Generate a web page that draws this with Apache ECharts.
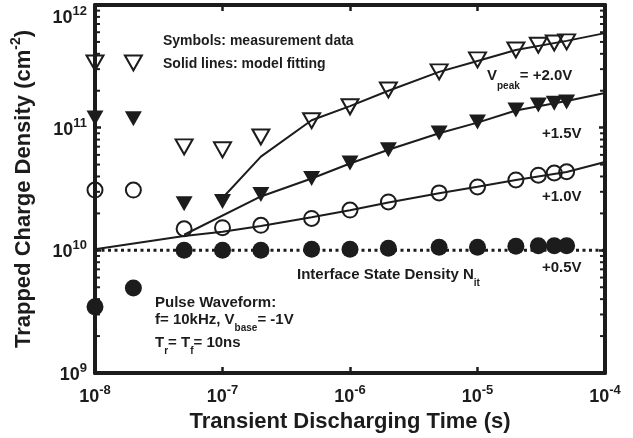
<!DOCTYPE html>
<html>
<head>
<meta charset="utf-8">
<script src="https://cdn.jsdelivr.net/npm/echarts@6/dist/echarts.min.js"></script>
<style>
  html, body { margin: 0; padding: 0; background: #fff; }
  #chart { width: 633px; height: 438px; }
</style>
</head>
<body>
<div id="chart"></div>
<script>
// measured points, one time base for all four pulse heights
const times = [1e-8, 2e-8, 5e-8, 1e-7, 2e-7, 5e-7, 1e-6, 2e-6, 5e-6, 1e-5, 2e-5, 3e-5, 4e-5, 5e-5];
const meas20 = [3.37e11, 3.37e11, 6.97e10, 6.6e10, 8.4e10, 1.14e11, 1.48e11, 2.03e11, 2.85e11, 3.57e11, 4.3e11, 4.7e11, 4.9e11, 5.0e11];
const meas15 = [1.2e11, 1.18e11, 2.4e10, 2.5e10, 2.85e10, 3.85e10, 5.15e10, 6.6e10, 9.06e10, 1.11e11, 1.39e11, 1.53e11, 1.58e11, 1.62e11];
const meas10 = [3.1e10, 3.1e10, 1.5e10, 1.53e10, 1.6e10, 1.82e10, 2.13e10, 2.48e10, 2.94e10, 3.29e10, 3.75e10, 4.1e10, 4.27e10, 4.37e10];
const meas05 = [3.46e9, 4.94e9, 1.0e10, 1.0e10, 1.0e10, 1.02e10, 1.02e10, 1.04e10, 1.06e10, 1.06e10, 1.08e10, 1.09e10, 1.09e10, 1.09e10];

// model fitting curves
const fitT20 = [1e-7, 2e-7, 5e-7, 1e-6, 2e-6, 5e-6, 1e-5, 2e-5, 5e-5, 1e-4];
const fit20 = [2.67e10, 5.8e10, 1.15e11, 1.5e11, 2.0e11, 2.85e11, 3.5e11, 4.3e11, 5.1e11, 5.9e11];
const fitT15 = [5e-8, 2e-7, 5e-7, 1e-6, 2e-6, 5e-6, 1e-5, 2e-5, 5e-5, 1e-4];
const fit15 = [1.34e10, 2.75e10, 3.85e10, 5.1e10, 6.6e10, 9.0e10, 1.1e11, 1.38e11, 1.65e11, 1.92e11];
const fitT10 = [1e-8, 5e-8, 1e-7, 2e-7, 5e-7, 1e-6, 2e-6, 5e-6, 1e-5, 2e-5, 5e-5, 1e-4];
const fit10 = [1.02e10, 1.31e10, 1.42e10, 1.58e10, 1.86e10, 2.12e10, 2.45e10, 2.92e10, 3.3e10, 3.75e10, 4.35e10, 5.25e10];

const nitT = [1e-8, 1e-4];
const nit = [1e10, 1e10];

const xRange = [1e-8, 1e-4];
const yRange = [1e9, 1e12];
const yMinor = [2e9, 3e9, 4e9, 5e9, 6e9, 7e9, 8e9, 9e9,
  2e10, 3e10, 4e10, 5e10, 6e10, 7e10, 8e10, 9e10,
  2e11, 3e11, 4e11, 5e11, 6e11, 7e11, 8e11, 9e11];

const ink = '#1c1c1c';
const font = 'Liberation Sans, Arial, sans-serif';

const pair = (xs, ys) => xs.map((x, i) => [x, ys[i]]);
const powLabel = v => '{b|10}{s|' + Math.round(Math.log10(v)) + '}';
const powRich = {
  b: { fontSize: 18, fontWeight: 'bold', fontFamily: font, color: ink, lineHeight: 22, verticalAlign: 'bottom' },
  s: { fontSize: 13, fontWeight: 'bold', fontFamily: font, color: ink, lineHeight: 13, verticalAlign: 'top' }
};

const axisCommon = {
  type: 'log',
  logBase: 10,
  splitLine: { show: false },
  axisLine: { lineStyle: { color: ink, width: 4 } },
  axisTick: { inside: true, length: 6, lineStyle: { color: ink, width: 2.5 } }
};

const chart = echarts.init(document.getElementById('chart'));

function txt(x, y, text, size, rich) {
  return {
    type: 'text', x: x, y: y, z: 100,
    style: { text: text, fill: ink, font: 'bold ' + size + 'px ' + font, verticalAlign: 'middle', rich: rich }
  };
}
const subRich = (size, sub, L) => ({
  m: { fontSize: size, fontWeight: 'bold', fontFamily: font, color: ink, lineHeight: L, verticalAlign: 'top' },
  u: { fontSize: sub, fontWeight: 'bold', fontFamily: font, color: ink, verticalAlign: 'bottom' }
});

const option = {
  animation: false,
  backgroundColor: '#fff',
  grid: { left: 95, right: 28, top: 5, bottom: 65 },
  xAxis: [
    Object.assign({}, axisCommon, {
      min: xRange[0], max: xRange[1], position: 'bottom',
      axisLabel: { margin: 11, formatter: powLabel, rich: powRich },
      name: 'Transient Discharging Time (s)', nameLocation: 'middle', nameGap: 37,
      nameTextStyle: { fontSize: 22, fontWeight: 'bold', fontFamily: font, color: ink }
    }),
    Object.assign({}, axisCommon, {
      min: xRange[0], max: xRange[1], position: 'top', axisLabel: { show: false }
    })
  ],
  yAxis: [
    Object.assign({}, axisCommon, {
      min: yRange[0], max: yRange[1], position: 'left',
      axisLabel: { margin: 8, formatter: powLabel, rich: powRich, verticalAlignMaxLabel: 'top' },
      name: '{a|Trapped Charge Density (cm}{s|-2}{a|)}', nameLocation: 'middle', nameGap: 60,
      nameTextStyle: {
        rich: {
          a: { fontSize: 22, fontWeight: 'bold', fontFamily: font, color: ink, lineHeight: 26, verticalAlign: 'bottom' },
          s: { fontSize: 14, fontWeight: 'bold', fontFamily: font, color: ink, verticalAlign: 'top' }
        }
      }
    }),
    Object.assign({}, axisCommon, {
      min: yRange[0], max: yRange[1], position: 'right', axisLabel: { show: false }
    })
  ],
  graphic: [
    txt(163, 41, 'Symbols: measurement data', 14),
    txt(163, 64, 'Solid lines: model fitting', 14),
    txt(487, 80, '{m|V}{u|peak}{m|= +2.0V}', 15, subRich(15, 10, 23)),
    txt(542, 134, '+1.5V', 15),
    txt(542, 197, '+1.0V', 15),
    txt(542, 268, '+0.5V', 15),
    txt(297, 278, '{m|Interface State Density N}{u|it}', 15, subRich(15, 10, 21)),
    txt(155, 303, 'Pulse Waveform:', 15),
    txt(155, 323, '{m|f= 10kHz, V}{u|base}{m|= -1V}', 15, subRich(15, 10, 21)),
    txt(155, 346, '{m|T}{u|r}{m|= T}{u|f}{m|= 10ns}', 15, subRich(15, 10, 21))
  ],
  series: [
    {
      type: 'custom', silent: true, clip: false, z: 1,
      data: yMinor.map(v => [xRange[0], v]),
      renderItem: (params, api) => {
        const v = api.value(1);
        const l = api.coord([xRange[0], v]);
        const r = api.coord([xRange[1], v]);
        const st = { stroke: ink, lineWidth: 2 };
        return {
          type: 'group', children: [
            { type: 'line', shape: { x1: l[0], y1: l[1], x2: l[0] + 5, y2: l[1] }, style: st },
            { type: 'line', shape: { x1: r[0] - 5, y1: r[1], x2: r[0], y2: r[1] }, style: st }
          ]
        };
      }
    },
    { type: 'line', data: pair(nitT, nit), showSymbol: false, z: 2,
      lineStyle: { color: ink, width: 3, type: [3, 3.5] } },
    { type: 'line', data: pair(fitT20, fit20), showSymbol: false, z: 3, lineStyle: { color: ink, width: 2 } },
    { type: 'line', data: pair(fitT15, fit15), showSymbol: false, z: 3, lineStyle: { color: ink, width: 2 } },
    { type: 'line', data: pair(fitT10, fit10), showSymbol: false, z: 3, lineStyle: { color: ink, width: 2 } },
    { type: 'scatter', data: pair(times, meas20), symbol: 'triangle', symbolRotate: 180, symbolSize: [17, 15], z: 5,
      itemStyle: { color: 'rgba(255,255,255,0)', borderColor: ink, borderWidth: 2, opacity: 1 } },
    { type: 'scatter', data: pair(times, meas15), symbol: 'triangle', symbolRotate: 180, symbolSize: [17, 15], z: 5,
      itemStyle: { color: ink, opacity: 1 } },
    { type: 'scatter', data: pair(times, meas10), symbol: 'circle', symbolSize: 15, z: 5,
      itemStyle: { color: 'rgba(255,255,255,0)', borderColor: ink, borderWidth: 2, opacity: 1 } },
    { type: 'scatter', data: pair(times, meas05), symbol: 'circle', symbolSize: 17, z: 5,
      itemStyle: { color: ink, opacity: 1 } }
  ]
};

chart.setOption(option);
</script>
</body>
</html>
